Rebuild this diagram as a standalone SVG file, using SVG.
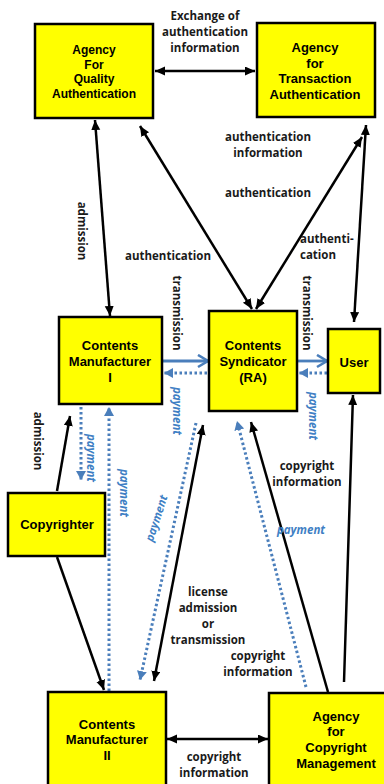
<svg xmlns="http://www.w3.org/2000/svg" width="384" height="784" viewBox="0 0 384 784">
<style>
.box{fill:#ffff00;stroke:#000;stroke-width:2.5}
.bt{font-family:"Liberation Sans",Arial,sans-serif;font-weight:bold;font-size:13px;fill:#000;text-anchor:middle}
.lb{font-family:"Open Sans","Noto Sans",sans-serif;font-weight:bold;font-size:11.5px;fill:#1a1a1a;text-anchor:middle}
.pay{font-family:"Open Sans","Noto Sans",sans-serif;font-weight:bold;font-style:italic;font-size:11.5px;fill:#3f7fc4;text-anchor:middle}
.k{stroke:#000;stroke-width:2.5;fill:none}
.bs{stroke:#4a7ebb;stroke-width:2.8;fill:none}
.bd{stroke:#4a7ebb;stroke-width:3;fill:none;stroke-dasharray:2.5 2.5}
</style>
<defs>
<marker id="ak" markerUnits="userSpaceOnUse" markerWidth="12" markerHeight="10" refX="10" refY="4.5" orient="auto-start-reverse"><path d="M0,0 L10,4.5 L0,9 z" fill="#000"/></marker>
<marker id="ac" markerUnits="userSpaceOnUse" markerWidth="14" markerHeight="16" refX="11" refY="7" orient="auto"><path d="M1,1 L11,7 L1,13" fill="none" stroke="#4a7ebb" stroke-width="2.6"/></marker>
<marker id="at" markerUnits="userSpaceOnUse" markerWidth="12" markerHeight="12" refX="9" refY="5" orient="auto"><path d="M0,0 L9,5 L0,10 z" fill="#4a7ebb"/></marker>
</defs>
<g id="connectors">
<line class="k" x1="155" y1="71" x2="255" y2="71" marker-start="url(#ak)" marker-end="url(#ak)"/>
<line class="k" x1="95" y1="120" x2="110" y2="316" marker-start="url(#ak)" marker-end="url(#ak)"/>
<line class="k" x1="140" y1="126" x2="252" y2="309" marker-start="url(#ak)" marker-end="url(#ak)"/>
<line class="k" x1="362" y1="137" x2="256" y2="309" marker-start="url(#ak)" marker-end="url(#ak)"/>
<line class="k" x1="366" y1="125" x2="354" y2="322" marker-start="url(#ak)" marker-end="url(#ak)"/>
<line class="bs" x1="163" y1="361" x2="208" y2="361" marker-end="url(#ac)"/>
<line class="bd" x1="207" y1="373" x2="164" y2="373" marker-end="url(#at)"/>
<line class="bs" x1="298" y1="361" x2="327" y2="361" marker-end="url(#ac)"/>
<line class="bd" x1="327" y1="373" x2="299" y2="373" marker-end="url(#at)"/>
<line class="k" x1="57" y1="491" x2="70" y2="416" marker-end="url(#ak)"/>
<line class="bd" x1="81" y1="407" x2="81" y2="480" marker-end="url(#at)"/>
<line class="bd" x1="109" y1="691" x2="109" y2="407" marker-end="url(#at)"/>
<line class="k" x1="57" y1="557" x2="104" y2="690" marker-end="url(#ak)"/>
<line class="bd" x1="196" y1="423" x2="140" y2="680" marker-end="url(#at)"/>
<line class="k" x1="203" y1="425" x2="154" y2="681" marker-start="url(#ak)" marker-end="url(#ak)"/>
<line class="bd" x1="306" y1="687" x2="237" y2="421" marker-end="url(#at)"/>
<line class="k" x1="328" y1="692" x2="251" y2="422" marker-end="url(#ak)"/>
<line class="k" x1="344" y1="682" x2="353" y2="395" marker-end="url(#ak)"/>
<line class="k" x1="167" y1="739" x2="268" y2="739" marker-start="url(#ak)" marker-end="url(#ak)"/>
</g>
<g id="labels">
<text class="lb" x="205" y="20">Exchange of</text>
<text class="lb" x="205" y="36">authentication</text>
<text class="lb" x="205" y="52">information</text>
<text class="lb" x="268" y="141">authentication</text>
<text class="lb" x="268" y="157">information</text>
<text class="lb" x="268" y="197">authentication</text>
<text class="lb" x="168" y="260">authentication</text>
<text class="lb" x="300" y="243" style="text-anchor:start">authenti-</text>
<text class="lb" x="300" y="259" style="text-anchor:start">cation</text>
<text class="lb" transform="translate(82,231) rotate(90)" dominant-baseline="central">admission</text>
<text class="lb" transform="translate(38,441) rotate(90)" dominant-baseline="central">admission</text>
<text class="lb" transform="translate(177,313) rotate(90)" dominant-baseline="central">transmission</text>
<text class="lb" transform="translate(307,313) rotate(90)" dominant-baseline="central">transmission</text>
<text class="pay" transform="translate(177,411) rotate(90)" dominant-baseline="central">payment</text>
<text class="pay" transform="translate(313,416) rotate(90)" dominant-baseline="central">payment</text>
<text class="pay" transform="translate(91,458) rotate(90)" dominant-baseline="central">payment</text>
<text class="pay" transform="translate(124,493) rotate(90)" dominant-baseline="central">payment</text>
<text class="pay" transform="translate(156,518) rotate(-72)" dominant-baseline="central">payment</text>
<text class="pay" x="301" y="534">payment</text>
<text class="lb" x="307" y="470">copyright</text>
<text class="lb" x="307" y="486">information</text>
<text class="lb" x="208" y="596">license</text>
<text class="lb" x="208" y="612">admission</text>
<text class="lb" x="208" y="628">or</text>
<text class="lb" x="208" y="644">transmission</text>
<text class="lb" x="258" y="660">copyright</text>
<text class="lb" x="258" y="676">information</text>
<text class="lb" x="214" y="761">copyright</text>
<text class="lb" x="214" y="777">information</text>
</g>
<g id="aqa">
<rect class="box" x="35" y="24" width="118" height="94"/>
<text class="bt" style="font-size:12px" x="94" y="54">Agency</text>
<text class="bt" style="font-size:12px" x="94" y="68.5">For</text>
<text class="bt" style="font-size:12px" x="94" y="83">Quality</text>
<text class="bt" style="font-size:12px" x="94" y="97.5">Authentication</text>
</g>
<g id="ata">
<rect class="box" x="257" y="23" width="118" height="94"/>
<text class="bt" x="315" y="52">Agency</text>
<text class="bt" x="315" y="67.5">for</text>
<text class="bt" x="315" y="83">Transaction</text>
<text class="bt" x="315" y="98.5">Authentication</text>
</g>
<g id="cm1">
<rect class="box" x="59" y="317" width="103" height="87"/>
<text class="bt" x="110" y="350">Contents</text>
<text class="bt" x="110" y="366">Manufacturer</text>
<text class="bt" x="110" y="382">I</text>
</g>
<g id="cs">
<rect class="box" x="209" y="311" width="88" height="100"/>
<text class="bt" x="253" y="350">Contents</text>
<text class="bt" x="253" y="366">Syndicator</text>
<text class="bt" x="253" y="382">(RA)</text>
</g>
<g id="user">
<rect class="box" x="328" y="329" width="52" height="64"/>
<text class="bt" x="354" y="367">User</text>
</g>
<g id="copyrighter">
<rect class="box" x="8" y="493" width="97" height="63"/>
<text class="bt" x="57" y="529">Copyrighter</text>
</g>
<g id="cm2">
<rect class="box" x="48" y="692" width="118" height="100"/>
<text class="bt" x="107" y="729">Contents</text>
<text class="bt" x="107" y="744">Manufacturer</text>
<text class="bt" x="107" y="760">II</text>
</g>
<g id="acm">
<rect class="box" x="269" y="693" width="120" height="100"/>
<text class="bt" x="336" y="721">Agency</text>
<text class="bt" x="336" y="736">for</text>
<text class="bt" x="336" y="752">Copyright</text>
<text class="bt" x="336" y="768">Management</text>
</g>
</svg>
